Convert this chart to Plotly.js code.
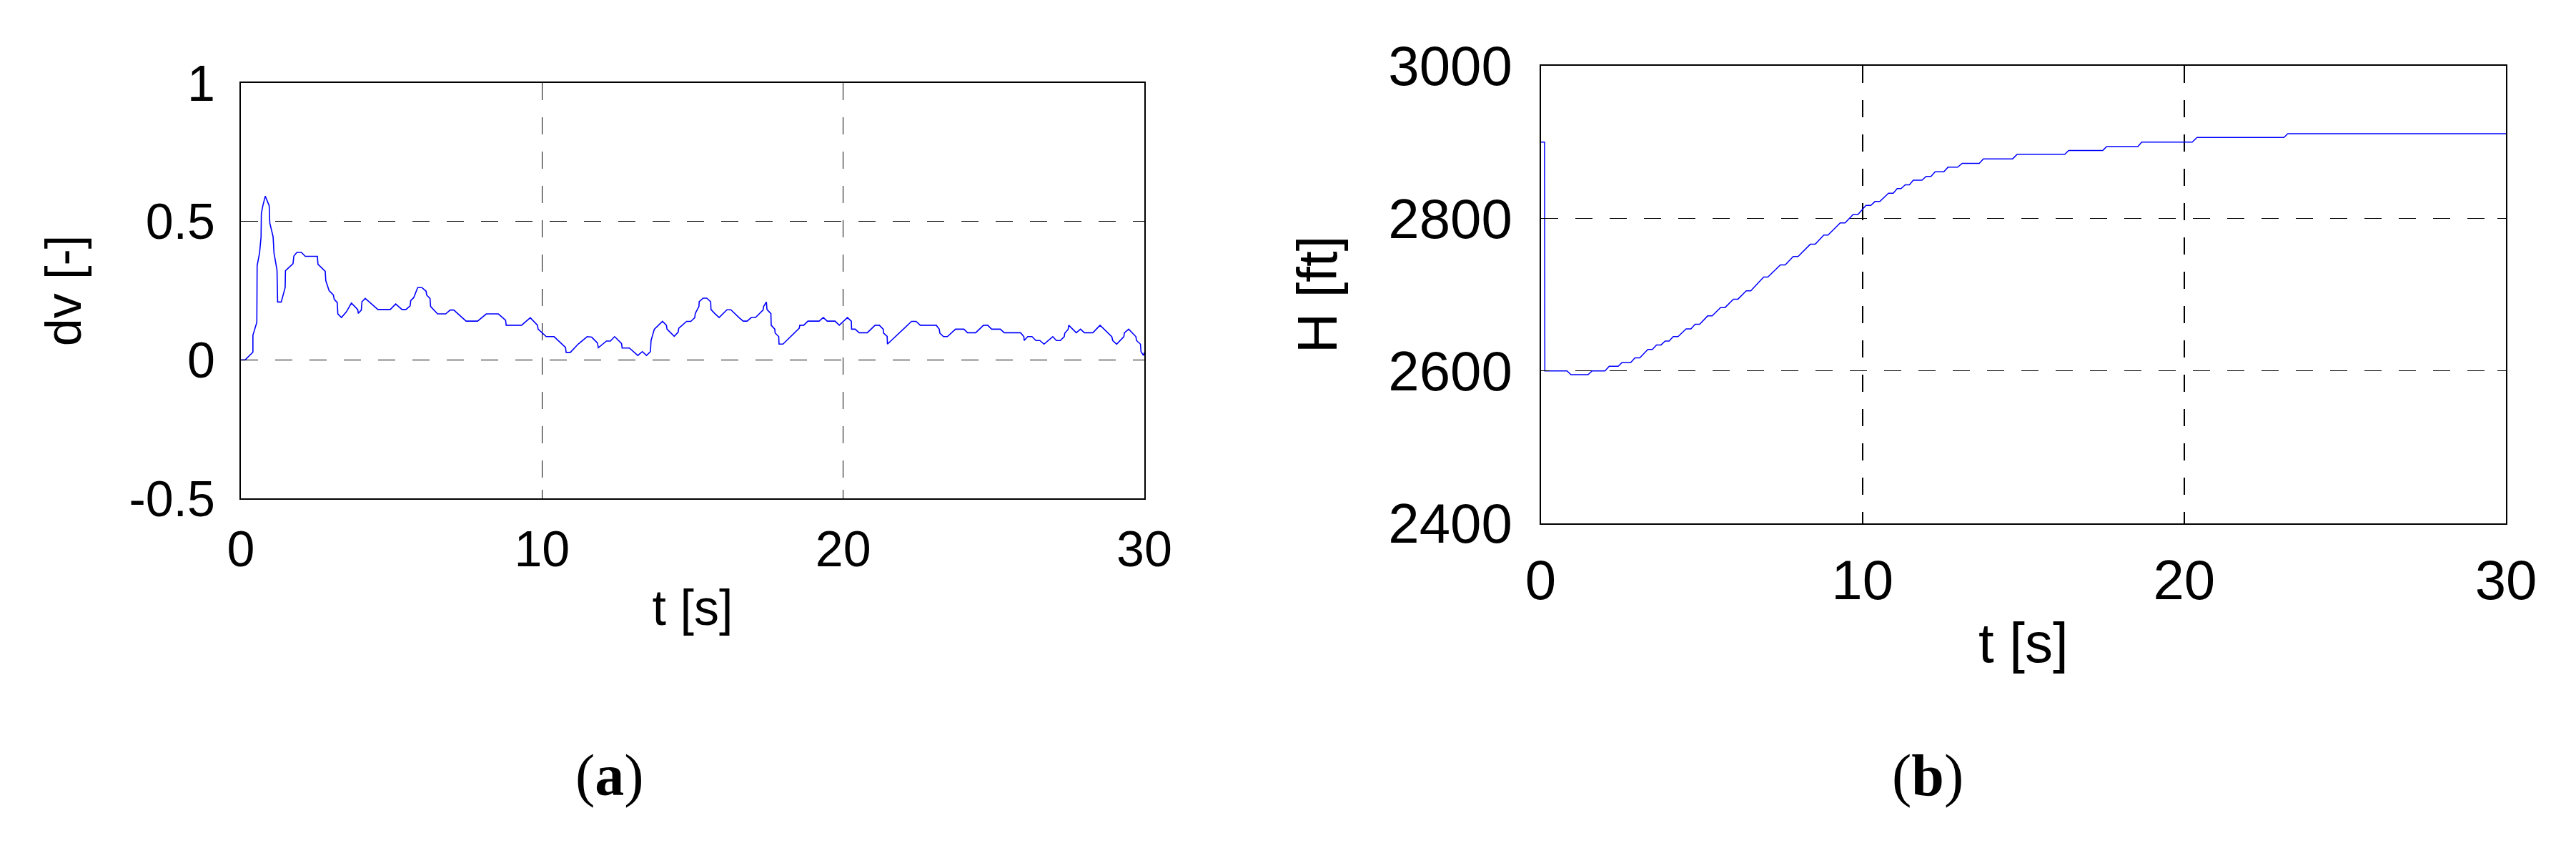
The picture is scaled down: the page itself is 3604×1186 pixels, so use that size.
<!DOCTYPE html>
<html><head><meta charset="utf-8">
<script src="https://cdn.plot.ly/plotly-3.0.1.min.js"></script>
<style>html,body{margin:0;padding:0;background:#fff;overflow:hidden}#chart{width:3604px;height:1186px;}</style>
</head><body><div id="chart"></div>
<script>
// (a) dv [-] versus t [s]
const tA = [0,0.14,0.40,0.40,0.53,0.54,0.62,0.67,0.68,0.73,0.81,0.94,0.96,1.07,1.10,1.20,1.22,1.34,1.47,1.48,1.73,1.76,1.86,2.01,2.14,2.54,2.56,2.80,2.82,2.93,3.07,3.10,3.20,3.22,3.34,3.50,3.67,3.88,3.90,4.00,4.02,4.13,4.55,4.96,5.14,5.35,5.48,5.62,5.64,5.74,5.87,6.01,6.15,6.17,6.28,6.30,6.53,6.80,6.95,7.07,7.48,7.86,8.15,8.55,8.79,8.81,9.32,9.61,9.85,9.87,10.14,10.40,10.78,10.80,10.94,11.20,11.50,11.65,11.84,11.87,12.14,12.27,12.41,12.64,12.66,12.90,13.18,13.33,13.47,13.60,13.62,13.73,14.00,14.13,14.15,14.39,14.52,14.54,14.80,14.94,15.07,15.09,15.21,15.22,15.35,15.47,15.60,15.61,15.74,15.88,16.14,16.27,16.54,16.68,16.81,16.95,17.09,17.34,17.36,17.45,17.47,17.60,17.61,17.73,17.74,17.86,17.87,18.00,18.54,18.56,18.69,18.83,19.20,19.34,19.47,19.73,19.87,20.14,20.27,20.28,20.40,20.53,20.80,21.06,21.20,21.33,21.34,21.46,21.47,21.86,22.27,22.42,22.56,23.09,23.19,23.21,23.33,23.46,23.73,24.01,24.13,24.40,24.66,24.80,24.93,25.22,25.35,25.89,26.00,26.01,26.13,26.27,26.40,26.53,26.67,26.96,27.08,27.21,27.34,27.36,27.47,27.49,27.74,27.88,28.01,28.29,28.53,28.92,28.95,29.08,29.32,29.34,29.48,29.72,29.74,29.87,29.89,29.97,30.00];
const dvA = [0,0,0.028,0.089,0.136,0.34,0.386,0.443,0.528,0.557,0.591,0.557,0.494,0.445,0.386,0.324,0.209,0.209,0.261,0.322,0.347,0.375,0.388,0.388,0.374,0.374,0.345,0.320,0.286,0.25,0.235,0.219,0.207,0.166,0.153,0.173,0.205,0.182,0.168,0.18,0.21,0.222,0.182,0.182,0.202,0.182,0.182,0.195,0.214,0.225,0.261,0.261,0.248,0.234,0.222,0.193,0.166,0.166,0.18,0.18,0.14,0.14,0.166,0.166,0.143,0.125,0.125,0.152,0.125,0.111,0.084,0.084,0.045,0.027,0.027,0.057,0.084,0.082,0.061,0.044,0.068,0.068,0.084,0.059,0.043,0.043,0.016,0.03,0.016,0.03,0.07,0.111,0.139,0.125,0.111,0.085,0.1,0.114,0.139,0.139,0.152,0.168,0.193,0.21,0.223,0.223,0.21,0.182,0.167,0.153,0.181,0.181,0.153,0.14,0.14,0.153,0.153,0.18,0.193,0.209,0.182,0.167,0.125,0.111,0.097,0.084,0.057,0.057,0.114,0.125,0.125,0.14,0.14,0.153,0.14,0.14,0.125,0.153,0.14,0.111,0.111,0.098,0.098,0.125,0.125,0.111,0.097,0.085,0.057,0.097,0.139,0.139,0.125,0.125,0.111,0.097,0.084,0.084,0.111,0.111,0.098,0.098,0.125,0.125,0.111,0.111,0.098,0.098,0.084,0.07,0.084,0.084,0.07,0.07,0.057,0.084,0.07,0.07,0.084,0.097,0.11,0.125,0.098,0.111,0.098,0.098,0.125,0.084,0.07,0.057,0.084,0.098,0.111,0.084,0.07,0.057,0.03,0.016,0.027];

// (b) H [ft] versus t [s]
const tB = [0,0.12,0.13,0.82,0.94,1.47,1.60,2.00,2.13,2.41,2.53,2.80,2.93,3.08,3.33,3.47,3.60,3.74,3.87,3.99,4.12,4.27,4.52,4.67,4.80,4.94,5.19,5.33,5.59,5.73,5.99,6.13,6.39,6.53,6.93,7.06,7.45,7.60,7.85,8.00,8.38,8.53,8.80,8.93,9.31,9.46,9.71,9.86,10.11,10.26,10.39,10.54,10.81,10.96,11.08,11.20,11.33,11.46,11.58,11.85,11.98,12.13,12.26,12.53,12.66,12.96,13.10,13.63,13.76,14.67,14.81,16.29,16.41,17.47,17.59,18.56,18.68,20.25,20.40,23.10,23.22,30.00];
const hB = [2900,2900,2600,2600,2595,2595,2600,2600,2606,2606,2611,2611,2617,2617,2628,2628,2634,2634,2639,2639,2645,2645,2655,2655,2661,2661,2672,2672,2683,2683,2694,2694,2705,2705,2723,2723,2739,2739,2750,2750,2766,2766,2778,2778,2794,2794,2805,2805,2817,2817,2822,2822,2833,2833,2839,2839,2844,2844,2850,2850,2855,2855,2861,2861,2867,2867,2872,2872,2878,2878,2884,2884,2889,2889,2894,2894,2900,2900,2906,2906,2911,2911];

const xTicks = [0,10,20,30];
const xTickText = ['0','10','20','30'];
const yTicksA = [-0.5,0,0.5,1];
const yTickTextA = ['-0.5','0','0.5','1'];
const yTicksB = [2400,2600,2800,3000];
const yTickTextB = ['2400','2600','2800','3000'];

const W = 3604, H = 1186;
const SANS = 'Liberation Sans, Arial, sans-serif';
const SERIF = 'Liberation Serif, Times New Roman, serif';

function axisCommon(fs, gw){
  return {
    showline:true, linecolor:'#000', linewidth:2, mirror:'ticks',
    ticks:'inside', ticklen:12, tickwidth:1.5, tickcolor:'#000',
    showgrid:true, gridcolor:'#000', gridwidth:gw, griddash:'24px,24px',
    zeroline:false, tickmode:'array',
    tickfont:{family:SANS, size:fs, color:'#000'}
  };
}

const traces = [
  {x:tA, y:dvA, type:'scatter', mode:'lines', xaxis:'x', yaxis:'y',
   line:{color:'#0000ff', width:1.6}, hoverinfo:'skip'},
  {x:tB, y:hB, type:'scatter', mode:'lines', xaxis:'x2', yaxis:'y2',
   line:{color:'#0000ff', width:1.5}, hoverinfo:'skip'}
];

const layout = {
  width:W, height:H, margin:{l:0,r:0,t:0,b:0},
  paper_bgcolor:'#fff', plot_bgcolor:'#fff', showlegend:false,
  xaxis: Object.assign(axisCommon(70,1.4), {
    domain:[337/W, 1601/W], range:[0,30], anchor:'y',
    tickvals:xTicks, ticktext:xTickText, ticklabelstandoff:9,
    title:{text:'t [s]', font:{family:SANS, size:70, color:'#000'}, standoff:19}
  }),
  yaxis: Object.assign(axisCommon(70,1.4), {
    domain:[(H-697)/H, (H-116)/H], range:[-0.5,1], anchor:'x',
    tickvals:yTicksA, ticktext:yTickTextA, ticklabelstandoff:20,
    title:{text:'dv [-]', font:{family:SANS, size:70, color:'#000'}, standoff:44}
  }),
  xaxis2: Object.assign(axisCommon(78,2.2), {
    domain:[2155.5/W, 3506/W], range:[0,30], anchor:'y2',
    tickvals:xTicks, ticktext:xTickText, ticklabelstandoff:10,
    title:{text:'t [s]', font:{family:SANS, size:78, color:'#000'}, standoff:18}
  }),
  yaxis2: Object.assign(axisCommon(78,1.6), {
    domain:[(H-732)/H, (H-92)/H], range:[2400,3000], anchor:'x2',
    tickvals:yTicksB, ticktext:yTickTextB, ticklabelstandoff:22,
    title:{text:'H [ft]', font:{family:SANS, size:78, color:'#000'}, standoff:46}
  }),
  annotations:[
    {text:'(<b>a</b>)', xref:'paper', yref:'paper', x:853/W, y:(H-1084)/H,
     xanchor:'center', yanchor:'middle', showarrow:false,
     font:{family:SERIF, size:82, color:'#000'}},
    {text:'(<b>b</b>)', xref:'paper', yref:'paper', x:2697/W, y:(H-1084)/H,
     xanchor:'center', yanchor:'middle', showarrow:false,
     font:{family:SERIF, size:82, color:'#000'}}
  ]
};

Plotly.newPlot('chart', traces, layout, {staticPlot:true, displayModeBar:false});
</script>
</body></html>
